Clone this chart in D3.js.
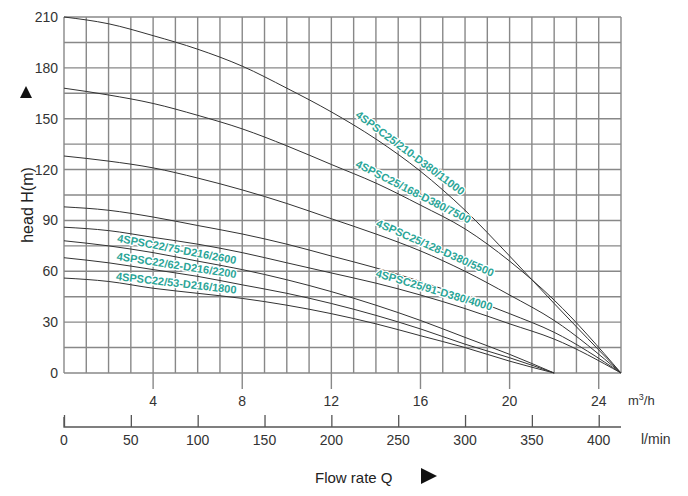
<!DOCTYPE html>
<html><head><meta charset="utf-8">
<script src="https://cdn.jsdelivr.net/npm/d3@7"></script>
<style>body{margin:0;background:#fff;font-family:Arial,"Liberation Sans",sans-serif}</style>
</head><body>
<script>
const flowM3 = [0, 2, 4, 6, 8, 10, 12, 14, 16, 18, 20, 22, 25];
const flowM3Short = [0, 2, 4, 6, 8, 10, 12, 14, 16, 18, 20, 22];
const h210 = [210, 206, 199, 191, 181, 168, 154, 138, 119, 96, 69, 41, 0];
const h168 = [168, 164, 159, 152, 144, 134, 123, 112, 99, 85, 66, 43, 0];
const h128 = [128, 125, 121, 115, 108, 100, 91, 82, 72, 60, 46, 31, 0];
const h100 = [98, 96, 92, 87, 82, 76, 69, 62, 54, 45, 35, 24, 0];
const h88 = [86, 84, 80, 76, 71, 65, 59, 53, 46, 38, 29, 20, 0];
const h75 = [78, 75, 71, 66, 61, 55, 48, 40, 31, 21, 11, 0];
const h62 = [68, 65, 61, 57, 52, 47, 41, 34, 26, 17, 9, 0];
const h53 = [56, 54, 50, 47, 44, 40, 35, 29, 22, 15, 7, 0];
const headTicks = [0, 30, 60, 90, 120, 150, 180, 210];
const m3Ticks = [4, 8, 12, 16, 20, 24];
const lminTicks = [0, 50, 100, 150, 200, 250, 300, 350, 400];
const curves = [
  {q: flowM3, h: h210, label: "4SPSC25/210-D380/11000", at: 15.3, dy: -5},
  {q: flowM3, h: h168, label: "4SPSC25/168-D380/7500", at: 15.5, dy: -5},
  {q: flowM3, h: h128, label: "4SPSC25/128-D380/5500", at: 16.5, dy: -5},
  {q: flowM3, h: h100, label: "", at: 0, dy: 0},
  {q: flowM3, h: h88, label: "4SPSC25/91-D380/4000", at: 16.5, dy: -5},
  {q: flowM3Short, h: h75, label: "4SPSC22/75-D216/2600", at: 5, dy: -4},
  {q: flowM3Short, h: h62, label: "4SPSC22/62-D216/2200", at: 5, dy: -4},
  {q: flowM3Short, h: h53, label: "4SPSC22/53-D216/1800", at: 5, dy: -4}
];

const W = 688, H = 496;
const svg = d3.select("body").append("svg").attr("width", W).attr("height", H);
const x = d3.scaleLinear().domain([0, 25]).range([64, 621]);
const xl = d3.scaleLinear().domain([0, 25 * 1000 / 60]).range([64, 621]);
const y = d3.scaleLinear().domain([0, 210]).range([373, 17]);

// grid
const g = svg.append("g").attr("stroke", "#888").attr("stroke-width", 1.4);
g.selectAll(".v").data(d3.range(0, 26)).join("line")
  .attr("x1", d => x(d)).attr("x2", d => x(d)).attr("y1", y(210)).attr("y2", y(0));
g.selectAll(".h").data(d3.range(0, 211, 15)).join("line")
  .attr("x1", x(0)).attr("x2", x(25)).attr("y1", d => y(d)).attr("y2", d => y(d));
g.selectAll(".t").data(m3Ticks).join("line")
  .attr("x1", d => x(d)).attr("x2", d => x(d)).attr("y1", y(0)).attr("y2", y(0) + 16);

// y labels
svg.selectAll(".yl").data(headTicks).join("text")
  .attr("x", 58).attr("y", d => y(d) + 5).attr("text-anchor", "end")
  .attr("font-size", 14).attr("fill", "#333").text(d => d);

// m3/h labels
svg.selectAll(".ml").data(m3Ticks).join("text")
  .attr("x", d => x(d)).attr("y", 406).attr("text-anchor", "middle")
  .attr("font-size", 14).attr("fill", "#333").text(d => d);
svg.append("text").attr("x", 628).attr("y", 405).attr("font-size", 13).attr("fill", "#333")
  .html('m<tspan dy="-5" font-size="9">3</tspan><tspan dy="5">/h</tspan>');

// l/min axis
const ax = svg.append("g").attr("transform", "translate(0,427)")
  .call(d3.axisTop(xl).tickValues(lminTicks).tickSize(12).tickFormat(""));
ax.select(".domain").attr("d", `M${x(0)},-10V0H${x(25)}`).attr("stroke", "#555").attr("stroke-width", 1.3);
ax.selectAll(".tick line").attr("stroke", "#555").attr("stroke-width", 1.3);
svg.selectAll(".ll").data(lminTicks).join("text")
  .attr("x", d => xl(d)).attr("y", 445).attr("text-anchor", "middle")
  .attr("font-size", 14).attr("fill", "#333").text(d => d);
svg.append("text").attr("x", 641).attr("y", 444).attr("font-size", 14).attr("fill", "#333").text("l/min");

// axis titles
svg.append("text").attr("transform", "translate(33,205) rotate(-90)").attr("text-anchor", "middle")
  .attr("font-size", 16).attr("fill", "#222").text("head H(m)");
svg.append("path").attr("d", "M20,98L26,86L32,98Z").attr("fill", "#111");
svg.append("text").attr("x", 315).attr("y", 483).attr("font-size", 15).attr("fill", "#222").text("Flow rate Q");
svg.append("path").attr("d", "M421,468L437,476L421,484Z").attr("fill", "#111");

// curves
const line = d3.line().x(d => x(d[0])).y(d => y(d[1])).curve(d3.curveMonotoneX);
curves.forEach(c => {
  const pts = c.q.map((q, i) => [q, c.h[i]]);
  svg.append("path").attr("d", line(pts)).attr("fill", "none").attr("stroke", "#333").attr("stroke-width", 1);
  if (!c.label) return;
  const hAt = d3.scaleLinear().domain(c.q).range(c.h);
  const px = x(c.at), py = y(hAt(c.at));
  const ang = Math.atan2(y(hAt(c.at + 1)) - y(hAt(c.at - 1)), x(c.at + 1) - x(c.at - 1)) * 180 / Math.PI;
  svg.append("text").attr("transform", `translate(${px},${py}) rotate(${ang})`)
    .attr("dy", c.dy).attr("text-anchor", "middle").attr("font-size", 11).attr("font-weight", 600)
    .attr("fill", "#2ba597").attr("stroke", "#fff").attr("stroke-width", 2.5)
    .attr("paint-order", "stroke").text(c.label);
});
</script>
</body></html>
